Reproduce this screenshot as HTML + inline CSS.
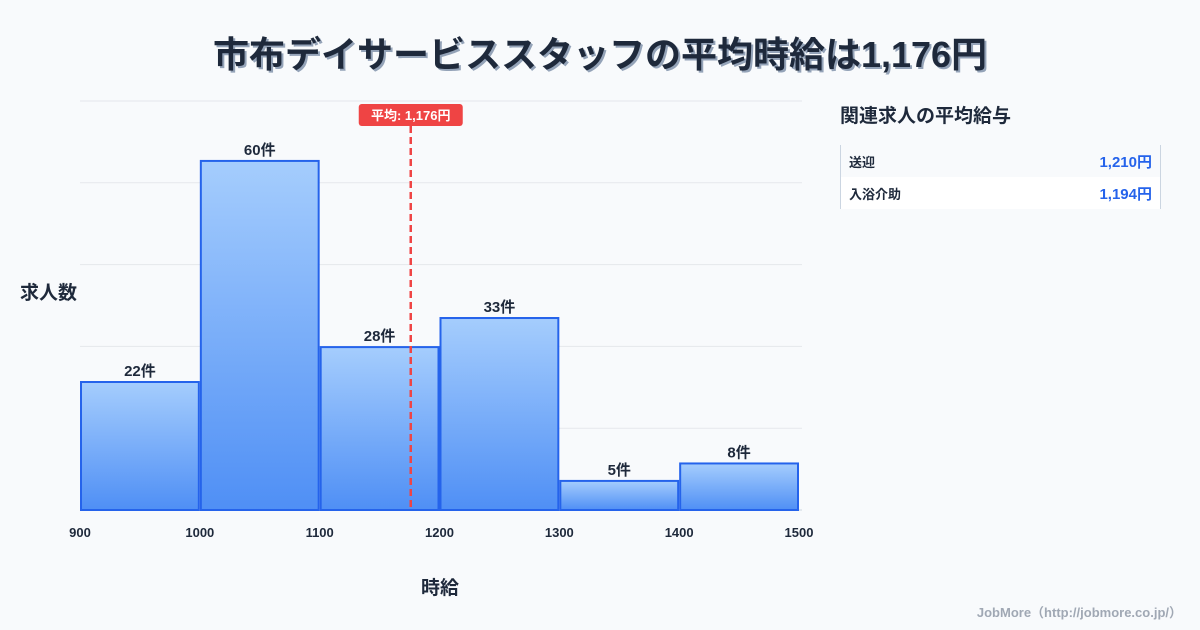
<!DOCTYPE html>
<html><head><meta charset="utf-8">
<style>
body{margin:0;width:1200px;height:630px;background:#f8fafc;font-family:"Liberation Sans","Noto Sans CJK JP",sans-serif;overflow:hidden;position:relative}
.title{position:absolute;top:30px;left:0;width:1200px;text-align:center;font-size:36px;font-weight:bold;color:#1e293b;text-shadow:2px 2px 0 #94a3b8;line-height:50px}
.side-title{position:absolute;left:840px;top:101px;font-size:19px;font-weight:bold;color:#1e293b}
.tbl{position:absolute;left:840px;top:145px;width:319px;border-left:1px solid #cbd5e1;border-right:1px solid #cbd5e1}
.row{height:32px;display:flex;justify-content:space-between;align-items:center;padding:0 8px;font-size:13px;font-weight:bold;color:#1e293b}
.row .v{color:#2563eb;font-size:15px}
.foot{position:absolute;right:18px;top:602px;font-size:13px;font-weight:bold;color:#a0a8b4}
</style></head><body>
<div class="title">市布デイサービススタッフの平均時給は1,176円</div>
<svg id="chart" width="1200" height="630" style="position:absolute;left:0;top:0"></svg>
<div class="side-title">関連求人の平均給与</div>
<div class="tbl">
 <div class="row" style="background:#f8fafc"><span>送迎</span><span class="v">1,210円</span></div>
 <div class="row" style="background:#fff"><span>入浴介助</span><span class="v">1,194円</span></div>
</div>
<div class="foot">JobMore（http://jobmore.co.jp/）</div>
<script>
const binStarts=[900,1000,1100,1200,1300,1400];
const binWidth=100;
const counts=[22,60,28,33,5,8];
const xTicks=[900,1000,1100,1200,1300,1400,1500];
const meanValue=1176;
const meanLabel="平均: 1,176円";
const yMax=70.3;
const gridCount=5;
const NS="http://www.w3.org/2000/svg";
const svg=document.getElementById('chart');
const X0=80,X1=799,Y0=510,Y1=101;
const xs=v=>X0+(v-900)/(1500-900)*(X1-X0);
const ys=v=>Y0-v/yMax*(Y0-Y1);
function mk(t,a,p){const e=document.createElementNS(NS,t);for(const k in a)e.setAttribute(k,a[k]);(p||svg).appendChild(e);return e;}
const defs=mk('defs',{});
const g=mk('linearGradient',{id:'bg',x1:0,y1:0,x2:0,y2:1},defs);
mk('stop',{offset:'0','stop-color':'#a5cdfd'},g);mk('stop',{offset:'1','stop-color':'#4f8ff5'},g);
for(let i=0;i<=gridCount;i++){const y=Y1+i*(Y0-Y1)/gridCount;
 const l=mk('line',{x1:X0,x2:X1+3,y1:y,y2:y,stroke:i==gridCount?'#cbd5e1':'#e5e7eb','stroke-width':1});
 
 }
counts.forEach((c,i)=>{
 const x=xs(binStarts[i])+1,w=xs(binStarts[i]+binWidth)-xs(binStarts[i])-2,y=ys(c);
 const r=mk('rect',{x:x,y:y,width:w,height:Y0-y,fill:'url(#bg)',stroke:'#2563eb','stroke-width':2});
 
 
 const t=mk('text',{x:x+w/2,y:y-6,'text-anchor':'middle','font-size':15,'font-weight':'bold',fill:'#1e293b'});
 t.textContent=c+'件';
 
 
});
xTicks.forEach(v=>{const t=mk('text',{x:xs(v),y:537,'text-anchor':'middle','font-size':13,'font-weight':'bold',fill:'#1e293b'});
 t.textContent=v;
 
 });
const mx=xs(meanValue);
const ml=mk('line',{x1:mx,x2:mx,y1:126,y2:Y0,stroke:'#ef4444','stroke-width':2.5,'stroke-dasharray':'7,4'});


const mb=mk('rect',{x:mx-52,y:104,width:104,height:22,rx:3,fill:'#ef4444'});


const mt=mk('text',{x:mx,y:120,'text-anchor':'middle','font-size':13,'font-weight':'bold',fill:'#fff'});
mt.textContent=meanLabel;


const yt=mk('text',{x:20,y:299,'font-size':19,'font-weight':'bold',fill:'#1e293b'});
yt.textContent='求人数';


const xt=mk('text',{x:440,y:594,'text-anchor':'middle','font-size':19,'font-weight':'bold',fill:'#1e293b'});
xt.textContent='時給';


</script>
</body></html>
